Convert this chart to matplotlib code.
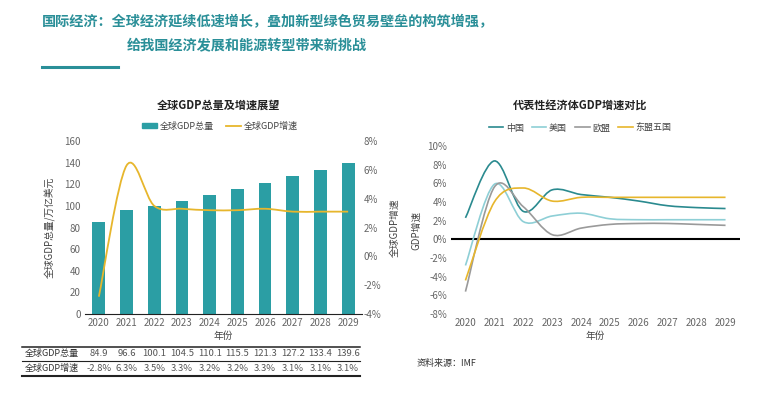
import matplotlib
matplotlib.use("Agg")
import matplotlib.pyplot as plt
import numpy as np
from matplotlib.path import Path
from matplotlib.patches import PathPatch, Patch
from matplotlib.lines import Line2D

plt.rcParams['font.family'] = ['Noto Sans CJK SC', 'DejaVu Sans']
plt.rcParams['axes.unicode_minus'] = False

# data
years = ['2020', '2021', '2022', '2023', '2024', '2025', '2026', '2027', '2028', '2029']
gdp_total = [84.9, 96.6, 100.1, 104.5, 110.1, 115.5, 121.3, 127.2, 133.4, 139.6]
gdp_growth = [-2.8, 6.3, 3.5, 3.3, 3.2, 3.2, 3.3, 3.1, 3.1, 3.1]
china = [2.3, 8.4, 3.0, 5.3, 4.8, 4.5, 4.1, 3.6, 3.4, 3.3]
usa = [-2.8, 5.9, 1.9, 2.5, 2.8, 2.2, 2.1, 2.1, 2.1, 2.1]
eu = [-5.6, 5.6, 3.5, 0.5, 1.2, 1.6, 1.7, 1.7, 1.6, 1.5]
asean5 = [-4.4, 4.0, 5.5, 4.1, 4.5, 4.5, 4.5, 4.5, 4.5, 4.5]

teal = '#2b9ea4'
yellow = '#e7b62c'
grey_txt = '#666666'


def smooth_path(x, y):
    # catmull-rom style bezier through the points, drawn by matplotlib
    pts = np.column_stack([x, y]).astype(float)
    verts = [pts[0]]
    codes = [Path.MOVETO]
    n = len(pts)
    for i in range(n - 1):
        p0 = pts[i - 1] if i > 0 else pts[i]
        p1 = pts[i]
        p2 = pts[i + 1]
        p3 = pts[i + 2] if i + 2 < n else pts[i + 1]
        c1 = p1 + (p2 - p0) / 6.0
        c2 = p2 - (p3 - p1) / 6.0
        verts += [c1, c2, p2]
        codes += [Path.CURVE4] * 3
    return Path(verts, codes)


fig = plt.figure(figsize=(7.67, 3.97), dpi=100)
W, H = 767.0, 397.0

# main title
fig.text(42 / W, 1 - 22 / H, '国际经济：全球经济延续低速增长，叠加新型绿色贸易壁垒的构筑增强，',
         fontsize=10.2, fontweight='bold', color='#2a8f98', va='center', ha='left')
fig.text(127 / W, 1 - 46 / H, '给我国经济发展和能源转型带来新挑战',
         fontsize=10.2, fontweight='bold', color='#2a8f98', va='center', ha='left')
fig.add_artist(Line2D([42 / W, 118 / W], [1 - 67 / H, 1 - 67 / H], color='#2a8f98', lw=2.2))

# ---------- left chart ----------
x = np.arange(len(years))
ax = fig.add_axes([85 / W, 83 / H, 277 / W, 173 / H])
ax.bar(x, gdp_total, width=0.46, color=teal, zorder=2)
ax.set_xlim(-0.5, 9.5)
ax.set_ylim(0, 160)
ax.set_yticks(range(0, 161, 20))
ax.set_xticks(x)
ax.set_xticklabels(years)
for s in ['top', 'right', 'left']:
    ax.spines[s].set_visible(False)
ax.spines['bottom'].set_color('#222222')
ax.tick_params(length=0, labelsize=7, colors=grey_txt, pad=3)
ax.set_ylabel('全球GDP总量/万亿美元', fontsize=7, color='#444444', labelpad=6)
ax.set_xlabel('年份', fontsize=7, color='#444444', labelpad=2)

ax2 = ax.twinx()
ax2.set_ylim(-4, 8)
ax2.set_yticks(range(-4, 9, 2))
ax2.set_yticklabels(['-4%', '-2%', '0%', '2%', '4%', '6%', '8%'])
for s in ax2.spines.values():
    s.set_visible(False)
ax2.tick_params(length=0, labelsize=7, colors=grey_txt, pad=1)
ax2.set_ylabel('全球GDP增速', fontsize=7, color='#444444', labelpad=6)
ax2.add_patch(PathPatch(smooth_path(x, gdp_growth), fill=False, edgecolor=yellow, lw=1.3, zorder=3))

fig.text(218 / W, 1 - 105 / H, '全球GDP总量及增速展望', fontsize=8, fontweight='bold',
         ha='center', va='center', color='#222222')
fig.legend(handles=[Patch(color=teal, label='全球GDP总量'),
                    Line2D([], [], color=yellow, lw=1.3, label='全球GDP增速')],
           loc='center', bbox_to_anchor=(220 / W, 1 - 126 / H), ncol=2, frameon=False,
           fontsize=6.5, handlelength=1.6, handleheight=0.5, columnspacing=1.4,
           handletextpad=0.3, labelcolor='#444444')

# data table under left chart
for yy, lw in [(346.5, 1.1), (361, 0.8), (376, 1.5)]:
    fig.add_artist(Line2D([22 / W, 360 / W], [1 - yy / H, 1 - yy / H], color='#222222', lw=lw))
tr = matplotlib.transforms.blended_transform_factory(ax.transData, fig.transFigure)
fig.text(25 / W, 1 - 353.5 / H, '全球GDP总量', fontsize=6.5, color='#333333', va='center')
fig.text(25 / W, 1 - 368.5 / H, '全球GDP增速', fontsize=6.5, color='#333333', va='center')
for i in range(len(years)):
    ax.text(x[i], 1 - 353.5 / H, f'{gdp_total[i]:.1f}', transform=tr, fontsize=6.8,
            color='#555555', ha='center', va='center')
    ax.text(x[i], 1 - 368.5 / H, f'{gdp_growth[i]:.1f}%', transform=tr, fontsize=6.8,
            color='#555555', ha='center', va='center')

# ---------- right chart ----------
bx = fig.add_axes([451 / W, 83 / H, 289 / W, 168 / H])
bx.set_xlim(-0.5, 9.5)
bx.set_ylim(-8, 10)
bx.set_yticks(range(-8, 11, 2))
bx.set_yticklabels([f'{v}%' for v in range(-8, 11, 2)])
bx.set_xticks(x)
bx.set_xticklabels(years)
for s in bx.spines.values():
    s.set_visible(False)
bx.tick_params(length=0, labelsize=7, colors=grey_txt, pad=3)
bx.axhline(0, color='black', lw=1.5, zorder=1)
series = [('中国', china, '#2a8a8f'), ('美国', usa, '#8ecfd6'),
          ('欧盟', eu, '#9a9a9a'), ('东盟五国', asean5, yellow)]
for name, vals, col in series:
    bx.add_patch(PathPatch(smooth_path(x, vals), fill=False, edgecolor=col, lw=1.2, zorder=3))
bx.set_ylabel('GDP增速', fontsize=7, color='#444444', labelpad=4)
bx.set_xlabel('年份', fontsize=7, color='#444444', labelpad=2)

fig.text(580 / W, 1 - 105 / H, '代表性经济体GDP增速对比', fontsize=8, fontweight='bold',
         ha='center', va='center', color='#222222')
fig.legend(handles=[Line2D([], [], color=c, lw=1.2, label=n) for n, v, c in series],
           loc='center', bbox_to_anchor=(580 / W, 1 - 128 / H), ncol=4, frameon=False,
           fontsize=6.5, handlelength=1.6, columnspacing=0.9, handletextpad=0.3,
           labelcolor='#444444')

fig.text(417 / W, 1 - 363 / H, '资料来源：IMF', fontsize=6.5, color='#333333', va='center')

fig.savefig('out.png', dpi=100)
